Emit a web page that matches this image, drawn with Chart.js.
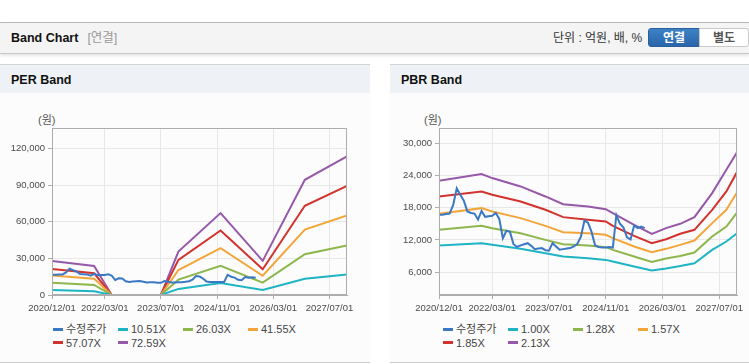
<!DOCTYPE html>
<html>
<head>
<meta charset="utf-8">
<script src="https://cdn.jsdelivr.net/npm/chart.js@4.4.1/dist/chart.umd.min.js"></script>
<style>
  body { margin: 0; width: 749px; height: 364px; overflow: hidden; background: #fff; position: relative;
         font-family: 'Liberation Sans', 'Noto Sans CJK KR', sans-serif; }
  .topbar { position: absolute; left: 0; top: 22px; width: 749px; height: 30px; background: #f4f4f4;
            border-top: 1px solid #b9b9b9; border-bottom: 1px solid #c6c6c6; box-shadow: 0 2px 3px rgba(0,0,0,.10); }
  .title { position: absolute; left: 11px; top: 0; line-height: 31px; font-size: 12.5px; font-weight: bold; color: #111; }
  .title span { font-weight: normal; color: #999; margin-left: 9px; }
  .unit { position: absolute; left: 553px; top: 0; line-height: 31px; font-size: 12px; color: #333; }
  .btn { position: absolute; top: 5px; height: 19px; line-height: 19px; font-size: 12px; font-weight: bold; text-align: center; box-sizing: border-box; }
  .btn.on { left: 648px; width: 52px; background: linear-gradient(#3d82c6, #2a65a8); color: #fff; border-radius: 3px 0 0 3px; border: 1px solid #2a5f9c; }
  .btn.off { left: 699px; width: 50px; background: #fff; color: #555; border: 1px solid #c9c9c9; border-radius: 0 3px 3px 0; }
  .panel { position: absolute; top: 64px; height: 297px; background: #fcfcfc; border-top: 1px solid #d4d4d4; border-bottom: 1px solid #cfcfcf; }
  .phead { height: 28px; background: #eef1f6; line-height: 30px; padding-left: 11px; font-size: 12.5px; font-weight: bold; color: #111; }
  .unitlbl { position: absolute; font-size: 11px; color: #555; }
  canvas { position: absolute; }
  .leg { position: absolute; font-size: 11px; color: #444; white-space: nowrap; line-height: 13px; }
  .leg i { display: inline-block; width: 10px; height: 3px; vertical-align: middle; margin-right: 3px; position: relative; top: -1px; }
</style>
</head>
<body>
<div class="topbar">
  <div class="title">Band Chart<span>[연결]</span></div>
  <div class="unit">단위 : 억원, 배, %</div>
  <div class="btn on">연결</div>
  <div class="btn off">별도</div>
</div>
<div class="panel" style="left:0;width:370px"><div class="phead">PER Band</div></div>
<div class="panel" style="left:390px;width:359px"><div class="phead">PBR Band</div></div>
<div class="unitlbl" style="left:38px;top:111px">(원)</div>
<div class="unitlbl" style="left:424px;top:111px">(원)</div>
<canvas id="per" width="370" height="220" style="left:0;top:100px;width:370px;height:220px"></canvas>
<canvas id="pbr" width="359" height="220" style="left:390px;top:100px;width:359px;height:220px"></canvas>
<div id="legPer"></div>
<div id="legPbr"></div>
<script>
// x = months since 2020/12
const xTickIdx = [0, 15, 31, 47, 63, 79];
const xTickLabels = ["2020/12/01", "2022/03/01", "2023/07/01", "2024/11/01", "2026/03/01", "2027/07/01"];

// 수정주가, monthly from 2020/12
const price = [16700, 16700, 16800, 16900, 18500, 21600, 20400, 19300, 17300, 17000,
  16900, 15800, 17400, 16300, 16400, 16500, 17000, 15900, 12300, 13700,
  13500, 11200, 10700, 11000, 11200, 11400, 10900, 10300, 10400, 10500,
  10100, 10000, 11400, 10800, 10200, 10300, 10400, 10500, 10800, 11300,
  12600, 15600, 15200, 13500, 11000, 10700, 10600, 10600, 10700, 10600,
  16600, 15000, 14300, 12500, 12100, 14700, 14200, 14500, 14200];

// PER band
const perIdx = [0, 12, 17, 18, 31, 36, 48, 60, 72, 84];
const per1051 = [4200, 3100, 0, null, 0, 5000, 9900, 4100, 13400, 16800];
const per2603 = [10100, 8300, 0, null, 0, 12600, 23900, 10100, 33400, 40600];
const per4155 = [15900, 13300, 0, null, 0, 20500, 38400, 15800, 53700, 65300];
const per5707 = [21400, 17800, 0, null, 0, 28800, 52900, 21100, 73200, 89600];
const per7259 = [28000, 23800, 0, null, 0, 35600, 67200, 28000, 94500, 113700];
const perNames = ["10.51X", "26.03X", "41.55X", "57.07X", "72.59X"];
const perTicks = [0, 30000, 60000, 90000, 120000];

// PBR band
const pbrIdx = [0, 12, 15, 23, 30, 35, 42, 47, 49, 55, 60, 64, 68, 72, 77, 81, 84];
const pbr100 = [10970, 11400, 11090, 10350, 9540, 8920, 8610, 8300, 7990, 7060, 6320, 6690, 7180, 7680, 10160, 11710, 13260];
const pbr128 = [13880, 14620, 14190, 13260, 12020, 11210, 10970, 10660, 10160, 8920, 7930, 8550, 9040, 9660, 12640, 14500, 17100];
const pbr157 = [16860, 17910, 17290, 16050, 14620, 13450, 13260, 12950, 12330, 10780, 9730, 10350, 11090, 11900, 15120, 17600, 20820];
const pbr185 = [20080, 21010, 20390, 19150, 17600, 16240, 15740, 15430, 14620, 12760, 11400, 12140, 13140, 13880, 17600, 21010, 24610];
const pbr213 = [23000, 24230, 23490, 21940, 20080, 18650, 18220, 17720, 16980, 14810, 13140, 14190, 15000, 16240, 20700, 25040, 28260];
const pbrNames = ["1.00X", "1.28X", "1.57X", "1.85X", "2.13X"];
const pbrTicks = [6000, 12000, 18000, 24000, 30000];

const priceColor = "#3b78c4";
const bandColors = ["#1fb4c4", "#8db64c", "#f2a63a", "#d2322d", "#9658a9"];

const tickFont = { family: "'Liberation Sans', sans-serif", size: 9.5 };

const toPts = (idx, vals) => vals.map((v, i) => ({ x: idx[i], y: v }));

const framePlugin = {
  id: "frame",
  afterDraw(chart) {
    const a = chart.chartArea, ctx = chart.ctx;
    ctx.save();
    ctx.strokeStyle = "#adadad";
    ctx.lineWidth = 1;
    ctx.strokeRect(Math.round(a.left) + 0.5, Math.round(a.top) + 0.5,
      Math.round(a.right - a.left) - 1, Math.round(a.bottom - a.top) - 1);
    ctx.restore();
  }
};

function makeChart(id, bands, idx, names, yMin, yMax, yTicks, yWidth, padRight) {
  const datasets = [{
    label: "수정주가", data: price.map((v, i) => ({ x: i, y: v })),
    borderColor: priceColor, backgroundColor: priceColor
  }];
  bands.forEach((b, k) => datasets.push({
    label: names[k], data: toPts(idx, b),
    borderColor: bandColors[k], backgroundColor: bandColors[k]
  }));
  datasets.forEach(d => { d.borderWidth = 2; d.pointRadius = 0; d.tension = 0; d.spanGaps = false; });

  return new Chart(document.getElementById(id), {
    type: "line",
    data: { datasets },
    options: {
      responsive: false,
      animation: false,
      layout: { padding: { left: 0, top: 28, right: padRight, bottom: 0 } },
      plugins: { legend: { display: false }, tooltip: { enabled: false } },
      scales: {
        x: {
          type: "linear", min: 0, max: 84,
          afterBuildTicks: s => { s.ticks = xTickIdx.map(v => ({ value: v })); },
          afterFit: s => { s.height = 25; },
          ticks: { callback: v => xTickLabels[xTickIdx.indexOf(v)], maxRotation: 0, autoSkip: false,
                   color: "#4a4a4a", font: tickFont, padding: 4 },
          grid: { color: "#e8e8e8", tickColor: "#adadad", tickLength: 4 },
          border: { color: "#adadad" }
        },
        y: {
          min: yMin, max: yMax,
          afterBuildTicks: s => { s.ticks = yTicks.map(v => ({ value: v })); },
          afterFit: s => { s.width = yWidth; },
          ticks: { callback: v => v.toLocaleString("en-US"), color: "#4a4a4a", font: tickFont, padding: 3 },
          grid: { color: "#e8e8e8", tickColor: "#adadad", tickLength: 4 },
          border: { color: "#adadad" }
        }
      }
    },
    plugins: [framePlugin]
  });
}

makeChart("per", [per1051, per2603, per4155, per5707, per7259], perIdx, perNames, 0, 137000, perTicks, 52, 23);
makeChart("pbr", [pbr100, pbr128, pbr157, pbr185, pbr213], pbrIdx, pbrNames, 1780, 32790, pbrTicks, 49, 12);

// legends (4 columns, 65px apart)
function makeLegend(elId, left, names) {
  const items = [["수정주가", priceColor]].concat(names.map((n, k) => [n, bandColors[k]]));
  const host = document.getElementById(elId);
  items.forEach((it, k) => {
    const d = document.createElement("div");
    d.className = "leg";
    d.style.left = (left + (k % 4) * 65) + "px";
    d.style.top = (k < 4 ? 323 : 336.5) + "px";
    d.innerHTML = '<i style="background:' + it[1] + '"></i>' + it[0];
    host.appendChild(d);
  });
}
makeLegend("legPer", 53, perNames);
makeLegend("legPbr", 443, pbrNames);
</script>
</body>
</html>
